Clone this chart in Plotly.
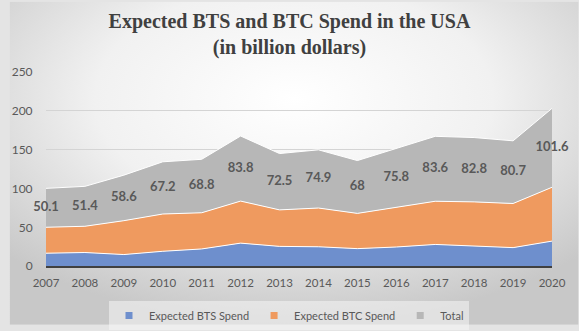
import base64
import plotly.graph_objects as go

years = [2007, 2008, 2009, 2010, 2011, 2012, 2013, 2014, 2015, 2016, 2017, 2018, 2019, 2020]
bts_spend = [16.7, 17.6, 15.0, 19.2, 22.2, 29.7, 25.5, 25.0, 22.6, 24.7, 28.0, 25.5, 23.9, 32.3]
btc_spend = [33.4, 33.8, 43.6, 48.0, 46.6, 54.1, 47.0, 49.9, 45.4, 51.1, 55.6, 57.3, 56.8, 69.3]
total = [50.1, 51.4, 58.6, 67.2, 68.8, 83.8, 72.5, 74.9, 68, 75.8, 83.6, 82.8, 80.7, 101.6]
total_labels = ["50.1", "51.4", "58.6", "67.2", "68.8", "83.8", "72.5", "74.9", "68", "75.8",
                "83.6", "82.8", "80.7", "101.6"]
y_ticks = [0, 50, 100, 150, 200, 250]
series_names = ["Expected BTS Spend", "Expected BTC Spend", "Total"]
series_colors = ["#6e8fcd", "#ef9a5f", "#b7b7b7"]

W, H = 579, 331
ML, MR, MT, MB = 37, 27, 72, 60

svg = (
    "<svg xmlns='http://www.w3.org/2000/svg' width='579' height='331' preserveAspectRatio='none'>"
    "<defs><radialGradient id='g' cx='0.5' cy='0.3' r='0.7'>"
    "<stop offset='0' stop-color='#ffffff'/>"
    "<stop offset='0.5' stop-color='#f1f1f1'/>"
    "<stop offset='1' stop-color='#c8c8c8'/>"
    "</radialGradient></defs>"
    "<rect x='0' y='0' width='579' height='331' fill='url(#g)'/></svg>"
)
bg_src = "data:image/svg+xml;base64," + base64.b64encode(svg.encode()).decode()

pw = W - ML - MR
ph = H - MT - MB

fig = go.Figure()
stacks = [bts_spend, btc_spend, total]
for name, vals, col in zip(series_names, stacks, series_colors):
    fig.add_trace(go.Scatter(
        x=years, y=vals, name=name, mode="lines",
        stackgroup="one", fillcolor=col, line=dict(color="#ffffff", width=1),
        hoverinfo="skip", showlegend=False))

label_y = [b + c + t / 2 for b, c, t in zip(bts_spend, btc_spend, total)]
fig.add_trace(go.Scatter(
    x=years, y=label_y, mode="text", text=total_labels, textposition="middle center",
    textfont=dict(family="Lato", size=13, color="#595959", weight="bold"),
    showlegend=False, hoverinfo="skip", cliponaxis=False))

for name, col in zip(series_names, series_colors):
    fig.add_trace(go.Scatter(
        x=[None], y=[None], mode="markers", name=name,
        marker=dict(symbol="square", size=7, color=col), hoverinfo="skip"))

fig.update_layout(
    width=W, height=H,
    margin=dict(l=ML, r=MR, t=MT, b=MB),
    paper_bgcolor="#e4e4e4",
    plot_bgcolor="rgba(0,0,0,0)",
    images=[dict(source=bg_src, xref="paper", yref="paper",
                 x=-ML / pw, y=1 + MT / ph, sizex=W / pw, sizey=H / ph,
                 xanchor="left", yanchor="top", sizing="stretch", layer="below")],
    title=dict(
        text="<b>Expected BTS and BTC Spend in the USA<br>(in billion dollars)</b>",
        font=dict(family="Liberation Serif", size=20, color="#404040"),
        x=0.5, xref="container", xanchor="center",
        y=1 - 28 / H, yref="container", yanchor="top"),
    showlegend=True,
    legend=dict(
        orientation="h", xref="container", yref="container",
        x=289 / W, xanchor="center", y=1 - 301 / H, yanchor="top",
        bgcolor="rgba(245,245,245,0.55)",
        font=dict(family="Lato", size=11, color="#595959"),
        traceorder="normal", itemwidth=30),
    xaxis=dict(
        range=[2007, 2020], tickvals=years, ticktext=[str(y) for y in years],
        showgrid=False, zeroline=False, showline=True, linecolor="#404040", linewidth=2,
        tickfont=dict(family="Lato", size=11.5, color="#595959"),
        ticks="outside", ticklen=5, tickcolor="rgba(0,0,0,0)"),
    yaxis=dict(
        range=[0, 250], tickvals=y_ticks, showgrid=True, gridcolor="#d4d4d4", gridwidth=1,
        zeroline=False, showline=False,
        tickfont=dict(family="Lato", size=12, color="#595959"),
        ticks="outside", ticklen=10, tickcolor="rgba(0,0,0,0)"),
)

fig.write_html("out.html")
